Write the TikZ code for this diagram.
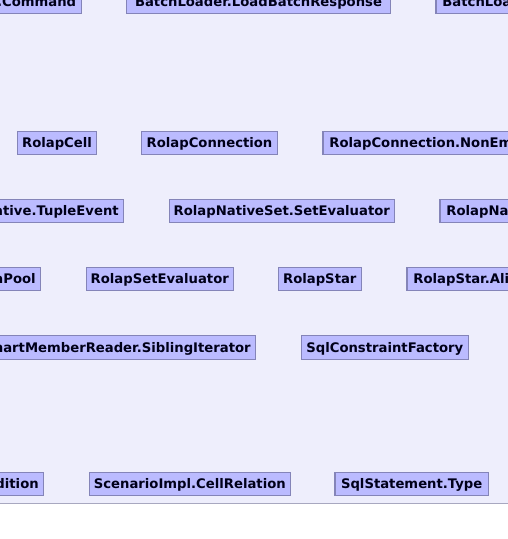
\documentclass[tikz,border=0pt]{standalone}
\usepackage{fontspec}
\setmainfont{DejaVu Sans}
\definecolor{bgc}{HTML}{EEEEFC}
\definecolor{boxfill}{HTML}{BBBBFF}
\definecolor{boxdraw}{HTML}{8484B8}
\definecolor{rulec}{HTML}{A8A8C0}
\begin{document}
\begin{tikzpicture}[x=1pt,y=-1pt,
  cls/.style={draw=boxdraw,fill=boxfill,line width=1.2pt,minimum height=23pt,inner ysep=0pt,inner xsep=6.5pt,
    font=\fontsize{13.2}{15}\selectfont\bfseries,text height=9.6pt,text depth=0pt,text=black!90!blue},
  cutl/.style={cls,anchor=east,inner xsep=5pt},
  cutr/.style={cls,anchor=west,inner xsep=6.5pt}]
\useasboundingbox (0,0) rectangle (508,539);
\clip (0,0) rectangle (508,539);
\fill[white] (0,0) rectangle (508,539);
\fill[bgc] (0,0) rectangle (508,503.3);
\draw[rulec,line width=1.2pt] (0,503.3) -- (508,503.3);
% row 1
\node[cutl] (cmd) at (81.7,1.8) {BatchLoader.Command};
\node[cls,minimum width=264.4pt,inner xsep=0pt] (blbr) at (258.5,1.8) {BatchLoader.LoadBatchResponse};
\node[cutr] (blr) at (435.3,1.8) {BatchLoader.RolapStarCollectorListEntry};
% row 2
\node[cls,minimum width=79.4pt,inner xsep=0pt] (rcell) at (57,142.8) {RolapCell};
\node[cls,minimum width=136.4pt,inner xsep=0pt] (rconn) at (209.5,142.8) {RolapConnection};
\node[cutr] (rconne) at (322.3,142.8) {RolapConnection.NonEmptyResult};
% row 3
\node[cutl] (rnte) at (124.3,210.8) {RolapNative.TupleEvent};
\node[cls,minimum width=225pt,inner xsep=0pt] (rnsse) at (281.8,210.8) {RolapNativeSet.SetEvaluator};
\node[cutr] (rntc) at (439.3,210.8) {RolapNativeTopCount};
% row 4
\node[cutl] (rsp) at (41.3,278.8) {RolapSchemaPool};
\node[cls,minimum width=147pt,inner xsep=0pt] (rse) at (159.8,278.8) {RolapSetEvaluator};
\node[cls,minimum width=83pt,inner xsep=0pt] (rstar) at (319.8,278.8) {RolapStar};
\node[cutr] (rsar) at (406.3,278.8) {RolapStar.AliasReplacer};
% row 5
\node[cutl,minimum height=24pt] (smrsi) at (256.3,347.3) {SmartMemberReader.SiblingIterator};
\node[cls,minimum width=167pt,minimum height=24pt,inner xsep=0pt] (scf) at (384.8,347.3) {SqlConstraintFactory};
% row 6
\node[cutl] (rsc) at (44.3,483.8) {RolapStar.Condition};
\node[cls,minimum width=201pt,inner xsep=0pt] (sicr) at (189.8,483.8) {ScenarioImpl.CellRelation};
\node[cls,minimum width=153.3pt,inner xsep=0pt] (sst) at (411.7,483.8) {SqlStatement.Type};
\end{tikzpicture}
\end{document}
